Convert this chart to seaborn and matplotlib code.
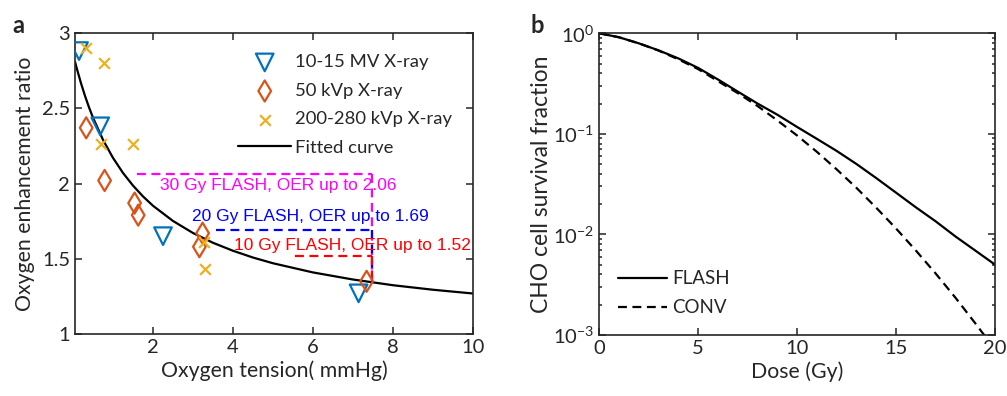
import numpy as np
import pandas as pd
import matplotlib
matplotlib.use("Agg")
import matplotlib.pyplot as plt
import seaborn as sns
from matplotlib.ticker import LogLocator, NullLocator, NullFormatter

# ---- panel a data: OER vs oxygen tension ----
mv_x = [0.15, 0.68, 2.25, 7.14]
mv_y = [2.88, 2.38, 1.65, 1.27]
kvp50_x = [0.33, 0.79, 1.54, 1.63, 3.24, 3.16, 7.34]
kvp50_y = [2.37, 2.02, 1.87, 1.79, 1.67, 1.58, 1.35]
kvp200_x = [0.33, 0.78, 0.70, 1.49, 3.28, 3.30]
kvp200_y = [2.90, 2.80, 2.26, 2.26, 1.61, 1.43]

fit_x = [0.05, 0.1, 0.2, 0.3, 0.4, 0.5, 0.75, 1.0, 1.25, 1.5, 1.75, 2.0, 2.5,
         3.0, 3.5, 4.0, 4.5, 5.0, 6.0, 7.0, 8.0, 9.0, 10.0]
fit_y = [2.809, 2.759, 2.666, 2.582, 2.506, 2.437, 2.290, 2.170, 2.070, 1.986,
         1.914, 1.852, 1.751, 1.671, 1.606, 1.553, 1.508, 1.470, 1.409, 1.362,
         1.324, 1.294, 1.269]

# FLASH markers in panel a
flash_labels = ["30 Gy FLASH, OER up to 2.06", "20 Gy FLASH, OER up to 1.69",
                "10 Gy FLASH, OER up to 1.52"]
flash_oer = [2.06, 1.69, 1.52]
flash_start = [1.59, 3.58, 5.55]
flash_tension = 7.47
flash_floor = 1.33
flash_colors = ["#FF00FF", "#0000FF", "#FF0000"]
text_x = [2.17, 2.97, 4.03]
text_y = [1.99, 1.78, 1.59]

# ---- panel b data: survival fraction ----
dose = list(range(21))
flash_sf = [1.0, 0.912, 0.794, 0.676, 0.562, 0.452, 0.347, 0.263, 0.200, 0.155,
            0.117, 0.0891, 0.0676, 0.0501, 0.0363, 0.0260, 0.0186, 0.0135,
            0.00955, 0.00692, 0.00501]
conv_sf = [1.0, 0.912, 0.794, 0.672, 0.55, 0.44, 0.334, 0.254, 0.189, 0.136,
           0.0962, 0.0662, 0.0443, 0.0290, 0.0184, 0.01144, 0.00692, 0.00409,
           0.00235, 0.00131, 0.000719]

sns.set_theme(style="ticks")
plt.rcParams["font.family"] = ["Lato", "DejaVu Sans"]
plt.rcParams["mathtext.default"] = "regular"
plt.rcParams["axes.edgecolor"] = "#262626"
plt.rcParams["axes.linewidth"] = 1.2
plt.rcParams["xtick.color"] = "#262626"
plt.rcParams["ytick.color"] = "#262626"

fig = plt.figure(figsize=(10.07, 3.96), dpi=100)
ax1 = fig.add_axes([0.0745, 0.1566, 0.3952, 0.760])
ax2 = fig.add_axes([0.5951, 0.154, 0.393, 0.762])

blue, orange, yellow = "#0072BD", "#D95319", "#EDB120"
dark = "#262626"

sns.scatterplot(x=mv_x, y=mv_y, ax=ax1, marker="v", s=160, facecolors="none",
                edgecolor=blue, linewidth=1.6, label="10-15 MV X-ray", zorder=3)
sns.scatterplot(x=kvp50_x, y=kvp50_y, ax=ax1, marker="d", s=115, facecolors="none",
                edgecolor=orange, linewidth=1.6, label="50 kVp X-ray", zorder=3)
sns.scatterplot(x=kvp200_x, y=kvp200_y, ax=ax1, marker="x", s=60, color=yellow,
                linewidth=1.6, label="200-280 kVp X-ray", zorder=3)
sns.lineplot(x=fit_x, y=fit_y, ax=ax1, color="black", linewidth=1.6,
             label="Fitted curve", zorder=2)

for lvl, x0, c, t, tx, ty in zip(flash_oer, flash_start, flash_colors,
                                 flash_labels, text_x, text_y):
    ax1.plot([x0, flash_tension], [lvl, lvl], color=c, lw=1.6, dashes=(4, 2.5))
    ax1.plot([flash_tension, flash_tension], [lvl, flash_floor], color=c, lw=1.6,
             dashes=(4, 2.5))
    ax1.text(tx, ty, t, color=c, fontsize=12.5, va="center", ha="left",
             family=["Liberation Sans", "DejaVu Sans"])

ax1.set_xlim(0.05, 10)
ax1.set_ylim(1, 3)
ax1.set_xticks([2, 4, 6, 8, 10])
ax1.set_yticks([1, 1.5, 2, 2.5, 3])
ax1.set_yticklabels(["1", "1.5", "2", "2.5", "3"])
ax1.set_xlabel("Oxygen tension( mmHg)", fontsize=15.3, color=dark, labelpad=3)
ax1.set_ylabel("Oxygen enhancement ratio", fontsize=15.3, color=dark, labelpad=5)
ax1.tick_params(direction="in", top=True, right=True, labelsize=14.5, length=5,
                width=1.1, labelcolor=dark)
ax1.legend(loc="upper right", frameon=False, fontsize=13.3, handlelength=2.85,
           handletextpad=0.2, labelspacing=0.68, borderaxespad=0.75,
           borderpad=0.4)

# ---- panel b ----
ax2.set_yscale("log")
sns.lineplot(x=dose, y=flash_sf, ax=ax2, color="black", linewidth=1.6, label="FLASH")
sns.lineplot(x=dose, y=conv_sf, ax=ax2, color="black", linewidth=1.6,
             dashes=False, label="CONV")
ax2.get_lines()[1].set_dashes((4, 2.5))
ax2.set_xlim(0, 20)
ax2.set_ylim(1e-3, 1)
ax2.set_xticks([0, 5, 10, 15, 20])
ax2.yaxis.set_major_locator(LogLocator(base=10, numticks=10))
ax2.yaxis.set_minor_locator(LogLocator(base=10, subs=np.arange(2, 10), numticks=20))
ax2.yaxis.set_minor_formatter(NullFormatter())
ax2.xaxis.set_minor_locator(NullLocator())
ax2.set_xlabel("Dose (Gy)", fontsize=15.3, color=dark, labelpad=3)
ax2.set_ylabel("CHO cell survival fraction", fontsize=16.5, color=dark, labelpad=1)
ax2.tick_params(which="both", direction="in", top=True, right=True, labelsize=14.5,
                width=1.1, labelcolor=dark)
ax2.tick_params(which="major", length=5)
ax2.tick_params(which="minor", length=2.5)
ax2.legend(loc="lower left", frameon=False, fontsize=13.5, handlelength=2.6,
           handletextpad=0.3, labelspacing=0.65, borderaxespad=0.6)

fig.text(0.012, 0.935, "a", fontsize=17, fontweight="bold", va="center")
fig.text(0.527, 0.935, "b", fontsize=17, fontweight="bold", va="center")

fig.savefig("out.png", dpi=100)
